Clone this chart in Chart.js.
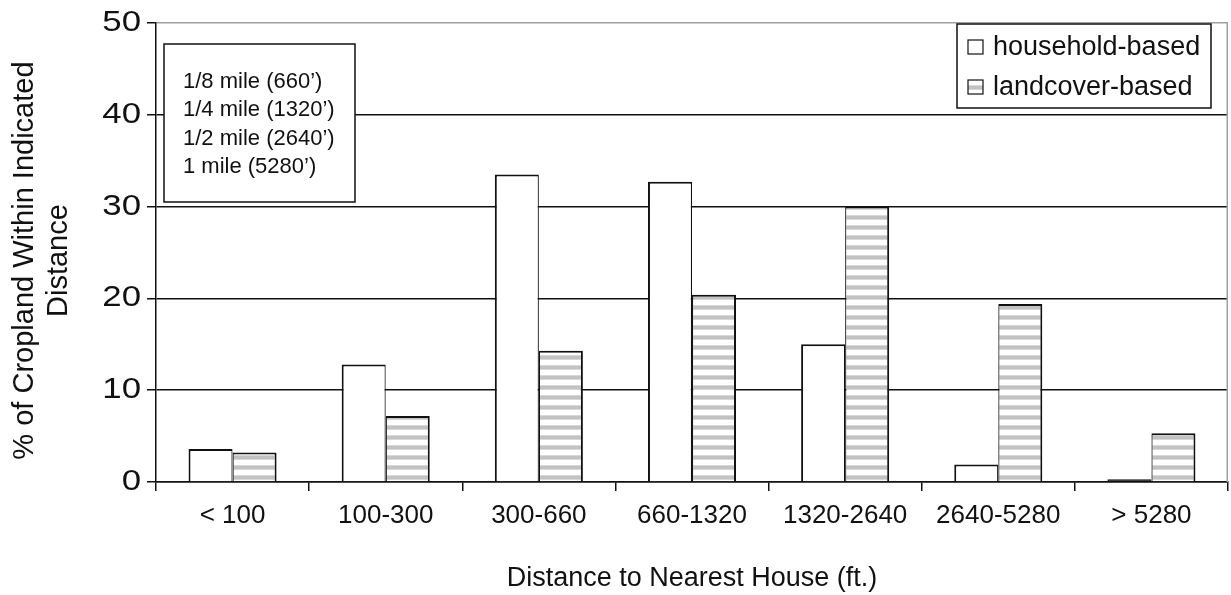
<!DOCTYPE html>
<html>
<head>
<meta charset="utf-8">
<script src="https://cdn.jsdelivr.net/npm/chart.js@4/dist/chart.umd.min.js"></script>
<style>
  html, body { margin: 0; padding: 0; background: #fff; }
  #wrap { width: 1231px; height: 595px; position: relative; }
  canvas { display: block; }
</style>
</head>
<body>
<div id="wrap"><canvas id="c" width="1231" height="595"></canvas></div>
<script>
// Distance bands to the nearest house (feet)
const categories = ['< 100', '100-300', '300-660', '660-1320', '1320-2640', '2640-5280', '> 5280'];
// % of cropland within each distance band
const householdBased = [3.6, 12.8, 33.5, 32.7, 15.0, 1.9, 0.3];
const landcoverBased = [3.2, 7.2, 14.3, 20.4, 30.0, 19.4, 5.3];
const seriesNames = ['household-based', 'landcover-based'];
const yTicks = [0, 10, 20, 30, 40, 50];
const distanceNotes = ['1/8 mile (660\u2019)', '1/4 mile (1320\u2019)', '1/2 mile (2640\u2019)', '1 mile (5280\u2019)'];

const FAMILY = "'Liberation Sans', Arial, Helvetica, sans-serif";
const INK = '#111';
const canvas = document.getElementById('c');
const mainCtx = canvas.getContext('2d');

// horizontal grey/white stripe fill for the landcover series
function stripePattern() {
  const t = document.createElement('canvas');
  t.width = 4; t.height = 10;
  const g = t.getContext('2d');
  g.fillStyle = '#ffffff'; g.fillRect(0, 0, 4, 10);
  g.fillStyle = '#d8d8d8'; g.fillRect(0, 5, 4, 1);
  g.fillStyle = '#c2c2c2'; g.fillRect(0, 6, 4, 3);
  g.fillStyle = '#d8d8d8'; g.fillRect(0, 9, 4, 1);
  return mainCtx.createPattern(t, 'repeat');
}
const stripes = stripePattern();

const overlay = {
  id: 'overlay',
  beforeDatasetsDraw(chart) {
    const { ctx, chartArea: a } = chart;
    ctx.save();
    ctx.strokeStyle = '#a0a0a0';
    ctx.lineWidth = 1.5;
    ctx.beginPath();
    ctx.moveTo(a.right - 0.75, a.top);
    ctx.lineTo(a.right - 0.75, a.bottom);
    ctx.stroke();
    ctx.restore();
  },
  afterDraw(chart) {
    const { ctx, chartArea: a } = chart;
    const yScale = chart.scales.y;
    ctx.save();

    // wide value labels on the y axis
    ctx.fillStyle = INK;
    ctx.font = '29px ' + FAMILY;
    ctx.textAlign = 'right';
    ctx.textBaseline = 'middle';
    yTicks.forEach(v => {
      ctx.save();
      ctx.translate(a.left - 15, yScale.getPixelForValue(v));
      ctx.scale(1.2, 1);
      ctx.fillText(String(v), 0, 0);
      ctx.restore();
    });

    // notes box
    const bx = a.left + 8, by = a.top + 21, bw = 191, bh = 158;
    ctx.fillStyle = '#fff';
    ctx.fillRect(bx, by, bw, bh);
    ctx.strokeStyle = INK;
    ctx.lineWidth = 1.5;
    ctx.strokeRect(bx, by, bw, bh);
    ctx.fillStyle = INK;
    ctx.font = '22px ' + FAMILY;
    ctx.textBaseline = 'middle';
    ctx.textAlign = 'left';
    distanceNotes.forEach((t, i) => ctx.fillText(t, bx + 19, by + 38 + i * 28.3));

    // legend box
    const lw = 254, lh = 84;
    const lx = a.right - 271, ly = a.top + 1;
    ctx.fillStyle = '#fff';
    ctx.fillRect(lx, ly, lw, lh);
    ctx.strokeRect(lx, ly, lw, lh);
    ctx.font = '27px ' + FAMILY;
    const fills = ['#ffffff', stripes];
    seriesNames.forEach((name, i) => {
      const cy = ly + 23 + i * 40;
      ctx.fillStyle = fills[i];
      ctx.fillRect(lx + 11, cy - 7, 15, 14);
      ctx.strokeStyle = INK;
      ctx.lineWidth = 1.2;
      ctx.strokeRect(lx + 11, cy - 7, 15, 14);
      ctx.fillStyle = INK;
      ctx.fillText(name, lx + 36, cy + 1);
    });
    ctx.restore();
  }
};

new Chart(canvas, {
  type: 'bar',
  data: {
    labels: categories,
    datasets: [
      {
        label: seriesNames[0],
        data: householdBased,
        // a sliver of a bar reads as a solid outline
        backgroundColor: c => (c.raw !== undefined && c.raw < 0.5 ? INK : '#ffffff'),
        borderColor: INK,
        borderWidth: { top: 2, left: 2, right: 1.2, bottom: 0 },
        barPercentage: 1,
        categoryPercentage: 0.575
      },
      {
        label: seriesNames[1],
        data: landcoverBased,
        backgroundColor: stripes,
        borderColor: INK,
        borderWidth: { top: 2, left: 1.2, right: 2, bottom: 0 },
        barPercentage: 1,
        categoryPercentage: 0.575
      }
    ]
  },
  options: {
    responsive: false,
    animation: false,
    devicePixelRatio: 1,
    layout: { padding: { top: 23, right: 3, left: 0, bottom: 0 } },
    plugins: { legend: { display: false }, tooltip: { enabled: false } },
    scales: {
      x: {
        grid: { offset: true, drawOnChartArea: false, drawTicks: true, tickLength: 9, color: INK, lineWidth: 1.5 },
        border: { display: true, color: INK, width: 1.5 },
        ticks: { color: INK, font: { family: FAMILY, size: 26 }, padding: 9, maxRotation: 0, autoSkip: false },
        title: {
          display: true, text: 'Distance to Nearest House (ft.)', color: INK,
          font: { family: FAMILY, size: 27 }, padding: { top: 0, bottom: 0 }
        },
        afterFit(s) { s.height = 113; }
      },
      y: {
        min: 0, max: 50,
        afterBuildTicks(s) { s.ticks = yTicks.map(v => ({ value: v })); },
        ticks: { display: false },
        grid: {
          color: c => (c.tick && c.tick.value === 50 ? '#a0a0a0' : INK),
          tickColor: INK, lineWidth: 1.5, tickLength: 9, drawTicks: true
        },
        border: { display: true, color: INK, width: 1.5 },
        title: {
          display: true, text: ['% of Cropland Within Indicated  ', 'Distance  '], color: INK,
          font: { family: FAMILY, size: 29, lineHeight: 1.18 }, padding: { top: 8, bottom: 0 }
        },
        afterFit(s) { s.width = 156; }
      }
    }
  },
  plugins: [overlay]
});
</script>
</body>
</html>
